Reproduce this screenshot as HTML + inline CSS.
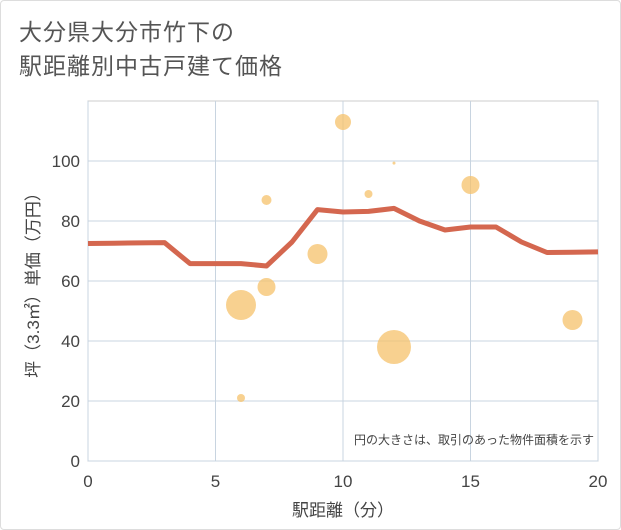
<!DOCTYPE html>
<html><head><meta charset="utf-8"><style>
body{margin:0;background:#fff;}
#wrap{position:relative;width:621px;height:530px;background:#fff;border:1px solid #ddd;box-sizing:border-box;border-radius:4px;overflow:hidden;font-family:"Liberation Sans","Noto Sans CJK JP",sans-serif;}
#title{position:absolute;left:18px;top:14px;font-size:23px;line-height:34px;color:#555;letter-spacing:1px;}
</style></head><body>
<div id="wrap">
<div id="title">大分県大分市竹下の<br>駅距離別中古戸建て価格</div>
<svg id="chart" width="621" height="530" style="position:absolute;left:0;top:0"></svg>
</div>
<script>
const xTicks=[0,5,10,15,20];
const yTicks=[0,20,40,60,80,100];
const lineX=[0,1,2,3,4,5,6,7,8,9,10,11,12,13,14,15,16,17,18,19,20];
const lineY=[72.5,72.6,72.7,72.8,65.8,65.8,65.8,65,73,83.8,83,83.2,84.2,80,77,78,78,73,69.5,69.6,69.7];
const bubX=[6,6,7,7,9,10,11,12,12,15,19];
const bubY=[52,21,58,87,69,113,89,99.3,38,92,47];
const bubR=[15,4,9,5,10,8,4,1.5,17,9,10];
const NS="http://www.w3.org/2000/svg";
const svg=document.getElementById('chart');
const L=87,R=597,T=100,B=460,xMax=20,yMax=120;
const sx=v=>L+v/xMax*(R-L);
const sy=v=>B-v/yMax*(B-T);
function mk(tag,attrs,parent){const e=document.createElementNS(NS,tag);for(const k in attrs)e.setAttribute(k,attrs[k]);(parent||svg).appendChild(e);return e;}
const bg=mk('rect',{x:L,y:T,width:R-L,height:B-T,fill:'#fff',stroke:'#ccc'});


yTicks.forEach(v=>{
 const g=mk('line',{x1:L,x2:R,y1:sy(v),y2:sy(v),stroke:'#c8d4e0','stroke-width':1});
 
 
 const t=mk('text',{x:L-8,y:sy(v)+6,'text-anchor':'end','font-size':17,fill:'#444'});
 t.textContent=v;
 
 
});
xTicks.forEach(v=>{
 const g=mk('line',{x1:sx(v),x2:sx(v),y1:T,y2:B,stroke:'#c8d4e0','stroke-width':1});
 
 
 const t=mk('text',{x:sx(v),y:B+26,'text-anchor':'middle','font-size':17,fill:'#444'});
 t.textContent=v;
 
 
});
bubX.forEach((x,i)=>{
 const c=mk('circle',{cx:sx(x),cy:sy(bubY[i]),r:bubR[i],fill:'#f5c26b','fill-opacity':0.75});
 
 
});
const p=mk('polyline',{points:lineX.map((x,i)=>sx(x)+','+sy(lineY[i])).join(' '),fill:'none',stroke:'#d4674f','stroke-width':5,'stroke-linejoin':'round'});


const note=mk('text',{x:R-4,y:B-17,'text-anchor':'end','font-size':12,fill:'#444'});
note.textContent='円の大きさは、取引のあった物件面積を示す';


const xt=mk('text',{x:(L+R)/2,y:B+55,'text-anchor':'middle','font-size':17,fill:'#444'});
xt.textContent='駅距離（分）';


const yt=mk('text',{x:0,y:0,'text-anchor':'middle','font-size':17,fill:'#444',transform:`translate(38,${(T+B)/2}) rotate(-90)`});
yt.textContent='坪（3.3㎡）単価（万円）';


</script>
</body></html>
